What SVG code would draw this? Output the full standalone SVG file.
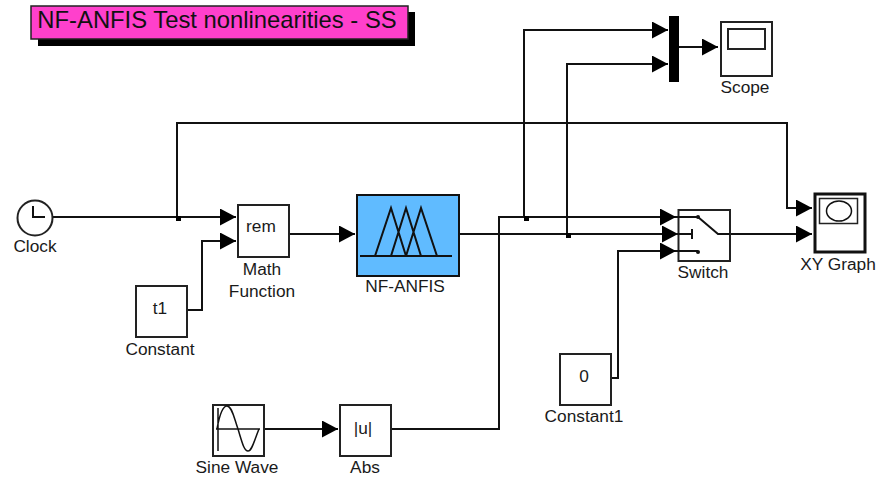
<svg xmlns="http://www.w3.org/2000/svg" width="876" height="477" viewBox="0 0 876 477">
<style>
text{font-family:"Liberation Sans",Arial,sans-serif;font-size:17.3px;fill:#1a1a1a;text-anchor:middle}
.b{fill:#fff;stroke:#222;stroke-width:2}
.w{fill:none;stroke:#111;stroke-width:2;marker-end:url(#a)}
.n{fill:none;stroke:#111;stroke-width:2}
</style>
<defs><marker id="a" markerUnits="userSpaceOnUse" markerWidth="17" markerHeight="18" refX="16" refY="8.5" orient="auto"><path d="M0 0L16 8.5L0 17Z" fill="#000"/></marker></defs>
<rect width="876" height="477" fill="#fff"/>
<g id="title">
<rect x="38" y="12" width="377" height="34" fill="#000"/>
<rect x="31" y="6" width="377" height="33" fill="#ff40cc" stroke="#222" stroke-width="1.5"/>
<text x="217" y="28" style="font-size:23.8px;fill:#111">NF-ANFIS Test nonlinearities - SS</text>
</g>
<g id="connectors">
<path class="w" d="M52 217H236"/>
<path class="w" d="M177 217V123H787V208H812"/>
<path class="w" d="M187 310H202V241H236"/>
<path class="w" d="M289 234H355"/>
<path class="w" d="M459 234H678"/>
<path class="w" d="M567 234V64H668"/>
<path class="w" d="M391 429H499V217H676"/>
<path class="w" d="M524 217V30H668"/>
<path class="w" d="M679 47H718"/>
<path class="w" d="M611 378H618V251H676"/>
<path class="w" d="M730 234H812"/>
<path class="w" d="M264 429H338"/>
<rect x="176" y="216" width="5" height="5" fill="#000"/>
<rect x="524" y="216" width="5" height="5" fill="#000"/>
<rect x="566" y="233" width="5" height="5" fill="#000"/>
</g>
<g id="clock">
<circle cx="35" cy="218" r="17.5" class="b"/>
<path class="n" d="M33 206V217H45"/>
<text x="35" y="252">Clock</text>
</g>
<g id="math-function">
<rect x="238" y="205" width="51" height="52" class="b"/>
<text x="261" y="232">rem</text>
<text x="262" y="275">Math</text>
<text x="262" y="297">Function</text>
</g>
<g id="constant">
<rect x="136" y="286" width="51" height="51" class="b"/>
<text x="160" y="314">t1</text>
<text x="160" y="355">Constant</text>
</g>
<g id="nf-anfis">
<rect x="357" y="195" width="102" height="81" fill="#60bbff" stroke="#111" stroke-width="2"/>
<path class="n" d="M360 256H452M375 256L391 208L406 256M391 256L406 208L421 256M406 256L421 208L437 256"/>
<text x="405" y="292">NF-ANFIS</text>
</g>
<g id="mux"><rect x="669" y="16" width="10" height="66" fill="#000"/></g>
<g id="scope">
<rect x="721" y="22" width="51" height="54" class="b"/>
<rect x="728" y="29" width="37" height="20" fill="#fff" stroke="#222" stroke-width="2"/>
<text x="745" y="93">Scope</text>
</g>
<g id="switch">
<rect x="678.5" y="210" width="51.5" height="51" class="b"/>
<path class="n" d="M676 217H698L718 234H730M676 234H692M692 229V239M676 251H698"/>
<circle cx="698" cy="217" r="2" fill="#111"/>
<circle cx="698" cy="252" r="2" fill="#111"/>
<text x="703" y="278">Switch</text>
</g>
<g id="xy-graph">
<rect x="815" y="194" width="50" height="58" fill="#fff" stroke="#111" stroke-width="3"/>
<rect x="819.500" y="198.500" width="38" height="25" fill="#fff" stroke="#222" stroke-width="1.500"/>
<ellipse cx="839" cy="211" rx="12.500" ry="10" fill="none" stroke="#111" stroke-width="1.500"/>
<text x="838" y="270">XY Graph</text>
</g>
<g id="constant1">
<rect x="560" y="354" width="51" height="51" class="b"/>
<text x="584" y="382">0</text>
<text x="584" y="422">Constant1</text>
</g>
<g id="sine-wave">
<rect x="213" y="405" width="51" height="51" class="b"/>
<path fill="none" stroke="#111" stroke-width="1.500" d="M218 408V451M216 429H260M217 429C220 412 223 406 227 406C232 406 234 418 238 429C242 442 244 451 248 451C252 451 254 441 259 429"/>
<text x="237" y="473">Sine Wave</text>
</g>
<g id="abs">
<rect x="340" y="405" width="51" height="51" class="b"/>
<text x="363" y="434">|u|</text>
<text x="365" y="473">Abs</text>
</g>
</svg>
